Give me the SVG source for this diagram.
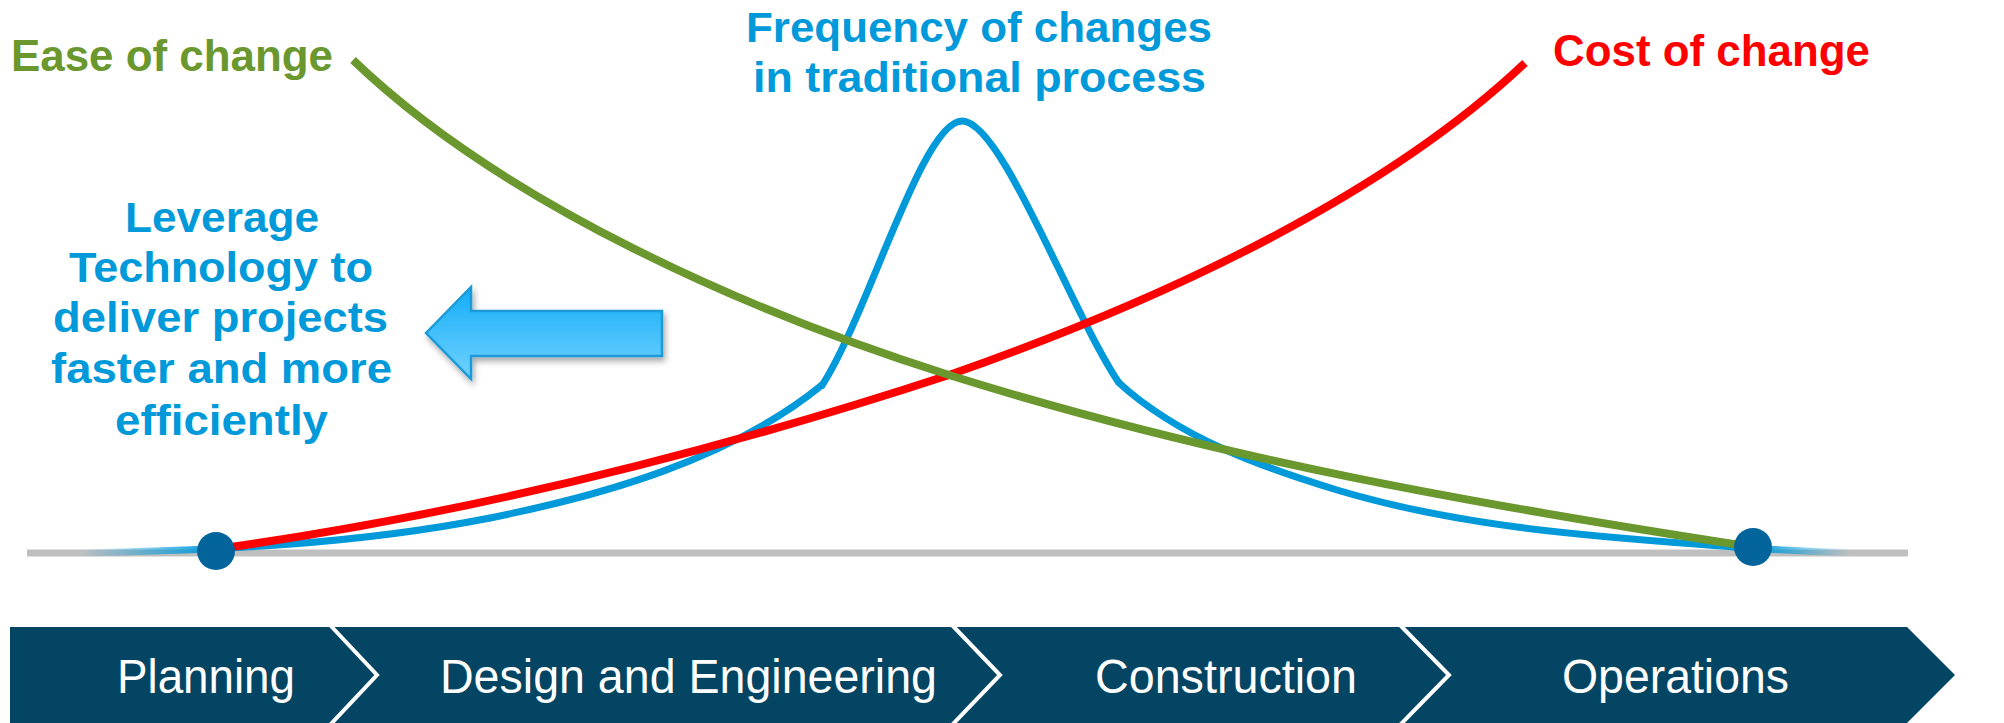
<svg xmlns="http://www.w3.org/2000/svg" width="2004" height="723" viewBox="0 0 2004 723">
  <style>
    .lbl { font-family: "Liberation Sans", Arial, sans-serif; font-weight: bold; }
    .blue { fill: #0099D9; }
    .phase { font-family: "Liberation Sans", Arial, sans-serif; fill: #FFFFFF; font-size: 48px; }
    .curve { fill: none; stroke-linecap: butt; stroke-linejoin: round; }
    .sep { fill: none; stroke: #FFFFFF; stroke-width: 4; }
    .dot { fill: #02649A; }
  </style>
  <defs>
    <linearGradient id="arrowFill" x1="0" y1="0" x2="0" y2="1">
      <stop offset="0" stop-color="#12ADF7"/>
      <stop offset="1" stop-color="#72D2FF"/>
    </linearGradient>
    <linearGradient id="fadeL" gradientUnits="userSpaceOnUse" x1="80" y1="0" x2="215" y2="0">
      <stop offset="0" stop-color="#0099D9" stop-opacity="0"/>
      <stop offset="1" stop-color="#0099D9" stop-opacity="1"/>
    </linearGradient>
    <linearGradient id="fadeR" gradientUnits="userSpaceOnUse" x1="1755" y1="0" x2="1850" y2="0">
      <stop offset="0" stop-color="#0099D9" stop-opacity="1"/>
      <stop offset="1" stop-color="#0099D9" stop-opacity="0"/>
    </linearGradient>
    <filter id="shadow" x="-10%" y="-20%" width="130%" height="150%">
      <feDropShadow dx="2" dy="4" stdDeviation="3" flood-color="#000000" flood-opacity="0.35"/>
    </filter>
  </defs>

  <rect width="2004" height="723" fill="#FFFFFF"/>

  <!-- baseline -->
  <g id="axis">
    <line x1="27" y1="553" x2="1908" y2="553" stroke="#BFBFBF" stroke-width="7"/>
  </g>

  <!-- curves -->
  <g id="connectors">
    <g id="frequency-curve">
      <path class="curve" stroke="url(#fadeL)" stroke-width="7" d="M80,553 C217,550 353,545 490,518"/>
      <path class="curve" stroke="#0099D9" stroke-width="7" d="M489,518.2 C600,496 730,460 822,385"/>
      <path class="curve" stroke="#0099D9" stroke-width="7" d="M821,387 C867,318 922,121 962,121 C1002,121 1070,310 1119,383"/>
      <path class="curve" stroke="#0099D9" stroke-width="7" d="M1118,382 C1179,438 1264,468 1337,490 C1467,529 1604,537 1734,547"/>
      <path class="curve" stroke="url(#fadeR)" stroke-width="7" d="M1733,547 C1780,550 1820,552 1850,552"/>
    </g>
    <path id="cost-curve" class="curve" stroke="#FF0000" stroke-width="8" d="M217,549 C461,515 705,455 949,375 C1141,308 1375,205 1525,63"/>
    <path id="ease-curve" class="curve" stroke="#6A982E" stroke-width="8" d="M353,60 C503,204 749,312 949,375 C1217,459 1485,506 1753,547"/>
  </g>

  <g id="dot-left"><circle class="dot" cx="216" cy="551" r="19"/></g>
  <g id="dot-right"><circle class="dot" cx="1753" cy="547" r="19"/></g>

  <!-- labels -->
  <g id="label-ease">
    <text class="lbl" x="11" y="71" font-size="44" fill="#6A982E" textLength="322" lengthAdjust="spacingAndGlyphs">Ease of change</text>
  </g>
  <g id="label-frequency">
    <text class="lbl blue" x="746" y="42" font-size="43" textLength="466" lengthAdjust="spacingAndGlyphs">Frequency of changes</text>
    <text class="lbl blue" x="753" y="92" font-size="43" textLength="453" lengthAdjust="spacingAndGlyphs">in traditional process</text>
  </g>
  <g id="label-cost">
    <text class="lbl" x="1553" y="66" font-size="44" fill="#FF0000" textLength="317" lengthAdjust="spacingAndGlyphs">Cost of change</text>
  </g>
  <g id="label-leverage">
    <text class="lbl blue" x="125" y="232" font-size="42" textLength="194" lengthAdjust="spacingAndGlyphs">Leverage</text>
    <text class="lbl blue" x="69" y="282" font-size="42" textLength="304" lengthAdjust="spacingAndGlyphs">Technology to</text>
    <text class="lbl blue" x="53" y="332" font-size="42" textLength="335" lengthAdjust="spacingAndGlyphs">deliver projects</text>
    <text class="lbl blue" x="51" y="383" font-size="42" textLength="341" lengthAdjust="spacingAndGlyphs">faster and more</text>
    <text class="lbl blue" x="115" y="435" font-size="42" textLength="213" lengthAdjust="spacingAndGlyphs">efficiently</text>
  </g>

  <!-- arrow -->
  <g id="arrow">
    <polygon points="426,333 471,287 471,311 662,311 662,356 471,356 471,379" fill="url(#arrowFill)" stroke="#1A9AD8" stroke-width="2.5" stroke-linejoin="miter" filter="url(#shadow)"/>
  </g>

  <!-- phases bar -->
  <g id="phases">
    <polygon points="10,627 1907,627 1955,675 1907,723 10,723" fill="#034563"/>
    <polyline class="sep" points="330,625 377,675 330,725"/>
    <polyline class="sep" points="952,625 1000,675 952,725"/>
    <polyline class="sep" points="1400,625 1449,675 1400,725"/>
  </g>
  <g id="phase-planning">
    <text class="phase" x="117" y="693" textLength="178" lengthAdjust="spacingAndGlyphs">Planning</text>
  </g>
  <g id="phase-design">
    <text class="phase" x="440" y="693" textLength="497" lengthAdjust="spacingAndGlyphs">Design and Engineering</text>
  </g>
  <g id="phase-construction">
    <text class="phase" x="1095" y="693" textLength="262" lengthAdjust="spacingAndGlyphs">Construction</text>
  </g>
  <g id="phase-operations">
    <text class="phase" x="1562" y="693" textLength="227" lengthAdjust="spacingAndGlyphs">Operations</text>
  </g>
</svg>
